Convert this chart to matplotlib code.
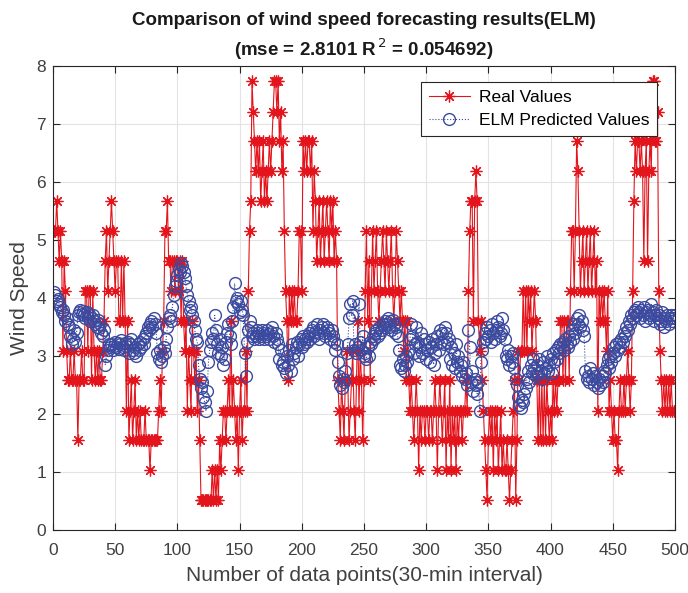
import numpy as np
import matplotlib
matplotlib.use("Agg")
import matplotlib.pyplot as plt

plt.rcParams['font.family'] = ['Liberation Sans', 'DejaVu Sans']

# real wind speed, points 1..500
real_values = [
    5.15, 5.15, 5.67, 5.15, 4.64, 5.15, 4.64, 3.09, 4.64, 4.12, 3.09, 2.58,
    2.58, 3.09, 2.58, 2.58, 3.09, 2.58, 2.58, 1.55, 2.58, 2.58, 3.09, 2.58, 2.58,
    4.12, 4.12, 3.09, 4.12, 4.12, 2.58, 4.12, 3.09, 2.58,
    3.09, 2.58, 3.09, 2.58, 2.58, 3.09, 3.61,
    4.64, 5.15, 4.12, 4.64, 5.15, 5.67, 5.15, 4.64, 4.12, 4.64,
    4.64, 3.61, 3.61, 4.64, 3.61, 4.64, 3.61, 2.06, 3.61, 1.55,
    2.06, 2.58, 1.55, 2.06, 2.58, 1.55, 2.06, 1.55, 2.06, 1.55, 1.55, 1.55, 2.06,
    1.55, 1.55, 1.55, 1.03, 1.55, 1.55, 1.55, 1.55, 1.55, 1.55, 2.06, 2.58, 2.06,
    3.09, 3.61, 5.15, 5.15, 5.67,
    4.64, 4.64, 4.12, 4.64, 4.64, 4.12, 4.64, 4.64, 4.12, 4.64, 3.61, 4.64,
    3.61, 3.09, 3.61, 2.06, 3.09, 2.58, 2.06, 3.61, 3.09, 2.58, 3.09, 2.06, 2.58,
    1.55, 0.52, 0.52, 0.52, 0.52, 0.52, 0.52, 0.52, 0.52, 0.52, 1.03, 0.52, 1.03,
    0.52, 1.03, 0.52, 1.55, 1.03, 1.55,
    2.06, 2.06, 1.55, 2.06, 2.58, 2.06, 3.61, 2.06, 2.58, 2.06, 1.55, 2.06, 1.03,
    2.06, 2.58, 1.55, 2.06, 2.06, 3.09, 2.06,
    4.12, 5.15, 5.67, 7.73, 7.21, 6.70, 6.18, 6.70, 6.18, 6.70, 5.67, 6.18, 6.70,
    5.67, 6.18, 5.67, 6.18, 6.70, 6.18, 6.70, 7.21, 7.73, 7.73, 7.21, 7.73, 6.70,
    7.21, 6.18, 6.70,
    5.15, 4.12, 3.61, 2.58, 4.12, 3.61, 4.12, 3.61, 4.12, 3.61, 3.61, 4.12, 5.15,
    5.15, 4.12, 6.70, 6.18, 6.70, 6.18, 6.70, 6.70, 6.18, 6.70, 5.15, 6.18, 5.67,
    4.64, 5.15, 5.67, 4.64, 5.15, 5.67, 4.64, 5.15, 5.67, 5.15, 4.64, 5.67, 5.15,
    5.67, 4.64, 5.15, 4.64,
    2.58, 2.06, 1.55, 2.58, 2.06, 1.55, 2.58, 3.09, 2.58, 1.55, 2.06, 2.58, 3.09,
    2.06, 1.55, 2.58, 3.61, 2.06, 3.09, 2.58, 1.55, 2.58,
    4.12, 5.15, 3.61, 4.64, 2.58, 4.12, 5.15, 4.12, 4.64, 5.15, 4.12, 3.61, 4.12,
    4.64, 5.15, 4.64, 4.12, 5.15, 4.64, 4.12, 4.64, 5.15, 4.12, 3.61, 4.12, 5.15,
    4.64, 4.12, 3.61, 4.12, 3.61, 3.09, 3.61, 2.58, 3.61,
    2.58, 2.06, 2.58, 2.06, 1.55, 2.06, 2.58, 2.06, 1.03, 2.06, 1.55, 2.06, 2.06,
    1.55, 2.06, 2.06, 1.55, 2.06, 2.06, 1.55, 2.06, 2.58, 2.06, 1.03, 2.06, 2.58,
    2.06, 1.55,
    2.06, 2.58, 1.03, 2.06, 1.55, 2.58, 1.03, 2.06, 1.55, 2.06, 1.03, 2.06, 1.55,
    2.06, 2.06, 1.55, 2.06, 2.06, 2.58,
    2.06, 4.12, 5.15, 5.67, 5.67, 3.61, 5.67, 6.18, 5.67, 3.61, 3.09, 3.61, 2.58,
    2.06, 1.55, 1.03, 0.52, 1.55, 2.06, 1.55, 2.06, 1.03, 2.06, 1.55, 2.06, 1.03,
    1.55, 2.06, 1.03, 1.55, 1.03, 1.03, 1.55, 1.03, 0.52, 1.03, 1.55, 2.06, 2.58,
    0.52,
    1.55, 3.09, 2.58, 3.09, 3.09, 4.12, 3.09, 4.12, 3.09, 4.12, 3.61, 4.12, 3.09,
    3.61, 4.12, 3.61,
    2.58, 1.55, 2.58, 1.55, 2.58, 1.55, 2.58, 1.55, 2.58, 2.06, 1.55, 2.06, 1.55,
    2.58, 2.06, 2.58, 2.06, 2.58, 2.58, 3.61,
    3.61, 2.58, 3.61, 2.58, 3.61, 3.61, 2.58, 4.12, 5.15, 5.15, 4.12, 5.15, 6.70,
    6.18, 5.15, 4.12, 4.64, 5.15, 4.12, 4.64, 5.15, 4.12, 4.64, 5.15, 4.12, 4.64,
    5.15, 4.12, 4.64,
    2.06, 4.12, 3.61, 4.12, 3.61, 4.12, 3.61, 3.09, 4.12, 2.06, 2.58, 2.06, 1.55,
    2.06, 1.55, 1.55, 1.03, 2.06, 2.58, 2.06, 2.06, 2.58, 2.06, 2.58, 3.09, 2.58,
    2.06, 2.58,
    4.12, 5.67, 6.70, 6.18, 6.70, 6.70, 6.18, 6.70, 6.18, 4.64, 6.18, 6.70, 4.64,
    6.18, 6.70, 6.18, 7.73, 7.73, 6.70, 6.70, 7.21, 4.12, 3.09, 2.58, 2.06, 2.58,
    2.06, 2.58, 2.06, 2.58, 2.06, 2.58, 2.06, 2.06, 2.06,
]

# ELM predicted wind speed, points 1..500
elm_predicted = [
    4.10, 4.05, 3.95, 3.98, 3.90, 3.85, 3.75, 3.80, 3.70, 3.60, 3.65, 3.55, 3.50,
    3.35, 3.20, 3.30, 3.45, 3.25, 3.40,
    3.70, 3.75, 3.80, 3.72, 3.78, 3.70, 3.65, 3.75, 3.68, 3.72, 3.60, 3.65, 3.70,
    3.60, 3.55, 3.50, 3.62, 3.48, 3.55, 3.40, 3.35, 3.45,
    2.85, 3.00, 3.10, 3.20, 3.15,
    3.20, 3.10, 3.18, 3.25, 3.15, 3.22, 3.12, 3.20, 3.28, 3.15, 3.10, 3.22, 3.18,
    3.25, 3.05, 3.20, 3.30,
    3.10, 3.05, 3.15, 3.00, 3.20, 3.10, 3.25, 3.15, 3.30, 3.20, 3.35, 3.40, 3.50,
    3.45, 3.55, 3.60, 3.50, 3.65, 3.55, 3.40,
    3.05, 2.95, 3.10, 2.90, 3.00, 3.15, 3.05, 3.30, 3.50,
    3.65, 3.70, 3.60, 3.85, 4.05, 4.20, 4.30, 4.40, 4.50, 4.45, 4.60, 4.55, 4.45,
    4.35, 4.20, 4.05,
    3.95, 3.80, 3.85, 3.70, 3.60, 3.45, 3.30, 3.25, 2.85, 2.60, 2.45, 2.55, 2.30,
    2.20, 2.05, 2.40,
    2.90, 3.10, 3.25, 3.40, 3.30, 3.70, 3.45, 3.20, 3.05, 3.30, 3.00, 3.15, 2.85,
    2.95, 3.25, 3.40, 3.55, 3.35, 3.20, 3.60, 3.85, 4.25,
    3.95, 4.00, 3.90, 3.75, 3.95, 3.80, 3.70, 3.05, 2.65, 3.25, 3.45, 3.60, 3.50,
    3.35, 3.40,
    3.30, 3.35, 3.45, 3.40, 3.30, 3.35, 3.45, 3.40, 3.30, 3.35, 3.45, 3.38, 3.30,
    3.42, 3.50, 3.35, 3.25, 3.40, 3.30, 3.20, 2.95, 3.10, 2.85, 2.90,
    2.80, 2.70, 3.00, 2.85, 3.10, 2.75, 3.20, 2.95, 3.05, 3.15, 3.25, 3.00, 3.20,
    3.30, 3.15, 3.35, 3.20, 3.30, 3.25, 3.35,
    3.40, 3.30, 3.45, 3.50, 3.35, 3.42, 3.55, 3.40, 3.30, 3.45, 3.50, 3.55, 3.40,
    3.35, 3.50, 3.45, 3.40, 3.30, 3.45, 3.35, 3.25, 3.10, 3.20,
    2.90, 2.65, 2.50, 2.45, 2.60, 2.55, 2.75, 3.05, 3.20,
    3.65, 3.90, 3.70, 3.95, 3.10, 3.20, 3.05, 3.15, 3.90, 3.25, 3.10, 3.35, 3.00,
    3.05, 2.95, 3.15, 3.00, 3.25, 3.20, 3.35, 3.30, 3.40, 3.45, 3.35, 3.50, 3.40,
    3.45, 3.55, 3.50, 3.60, 3.55, 3.65, 3.50, 3.60, 3.45, 3.62, 3.55, 3.40, 3.50,
    3.35,
    3.10, 2.85, 2.80, 2.95, 2.75, 2.85, 3.00, 2.90, 3.10, 3.30,
    3.55, 3.35, 3.05, 3.20, 3.50, 3.25, 3.00, 3.15, 3.40, 3.05, 3.30, 3.20, 2.95,
    3.10, 3.25, 2.90, 3.15, 3.30, 2.85, 3.05, 3.20, 3.35, 3.10, 3.45, 3.25, 3.40,
    3.20,
    3.50, 3.40, 3.25, 3.30, 2.95, 3.15, 2.85, 3.05, 2.80, 3.20, 2.90, 3.00, 2.75,
    2.85, 2.65, 2.90, 2.60, 2.70, 2.50, 3.45, 3.15, 2.55, 2.75, 2.40, 2.60, 2.50,
    2.35, 2.55, 2.05, 2.90,
    3.10, 3.25, 3.40, 3.30, 3.50, 3.35, 3.45, 3.25, 3.55, 3.40, 3.30, 3.45, 3.60,
    3.50, 3.35, 3.40, 3.65, 3.45, 3.30, 3.00, 2.95, 3.10, 2.85, 3.00, 2.90, 3.05,
    2.80, 2.60,
    2.50, 2.30, 2.15, 2.10, 2.25, 2.20, 2.35, 2.45, 2.60, 2.75, 2.55, 2.85, 2.70,
    2.95, 2.80, 2.65,
    2.85, 2.70, 2.95, 2.75, 2.60, 2.90, 2.70, 2.80, 3.00, 2.75, 2.85, 2.95, 2.70,
    3.05, 2.90, 3.10, 2.95, 3.15,
    3.05, 3.20, 3.15, 3.25, 3.10, 3.30, 3.20, 3.15, 3.35, 3.25, 3.45, 3.30, 3.55,
    3.40, 3.65, 3.55, 3.70, 3.50, 3.60, 3.45, 3.35, 2.75, 2.60,
    2.65, 2.55, 2.80, 2.60, 2.70, 2.50, 2.65, 2.55, 2.45, 2.60, 2.50, 2.65, 2.55,
    2.75, 2.70, 2.85, 2.95, 2.80, 3.00, 2.90, 3.05, 3.15, 3.00, 3.20, 3.10, 3.25,
    3.15, 3.30, 3.25, 3.40, 3.35, 3.50, 3.45, 3.60, 3.55, 3.70, 3.65, 3.75, 3.80,
    3.70, 3.85, 3.75, 3.65, 3.80, 3.70, 3.85, 3.60, 3.75, 3.80, 3.65, 3.70, 3.90,
    3.75, 3.60, 3.70, 3.80, 3.65, 3.70, 3.55, 3.60, 3.75, 3.50, 3.65, 3.60, 3.70,
    3.55, 3.65, 3.70, 3.60, 3.65, 3.70,
]

assert len(real_values) == 500, len(real_values)
assert len(elm_predicted) == 500, len(elm_predicted)

x_ticks = list(range(0, 501, 50))
y_ticks = list(range(0, 9))

red = '#E3141B'
blue = '#3B4A9E'
axis_gray = '#262626'
text_gray = '#404040'

fig = plt.figure(figsize=(6.88, 5.93), dpi=100)
ax = fig.add_axes([0.077, 0.106, 0.904, 0.783])

pts = np.arange(1, len(real_values) + 1)
ax.plot(pts, real_values, color=red, lw=0.8, marker=(8, 2, 0), ms=8.5,
        mew=0.9, label='Real Values')
ax.plot(pts, elm_predicted, color=blue, lw=0.8, ls=':', marker='o', ms=8.5,
        mfc='none', mew=1.0, label='ELM Predicted Values')

ax.set_xlim(0, 500)
ax.set_ylim(0, 8)
ax.set_xticks(x_ticks)
ax.set_yticks(y_ticks)
ax.grid(True, color='#e3e3e3', lw=0.8)
ax.set_axisbelow(True)
ax.tick_params(direction='in', top=True, right=True, labelsize=12.5,
               colors=axis_gray, labelcolor=text_gray, length=5)
ax.tick_params(axis='x', pad=9)
ax.tick_params(axis='y', pad=5)
for s in ax.spines.values():
    s.set_color(axis_gray)
    s.set_linewidth(0.8)

ax.set_xlabel('Number of data points(30-min interval)', fontsize=15,
              color=text_gray, labelpad=6)
ax.set_ylabel('Wind Speed', fontsize=15, color=text_gray, labelpad=5)
ax.set_title('Comparison of wind speed forecasting results(ELM)\n'
             '(mse = 2.8101 R$^{\\,2}$ = 0.054692)',
             fontsize=13.5, fontweight='bold', color='#1a1a1a', pad=7,
             linespacing=1.4)

leg = ax.legend(loc='upper right', bbox_to_anchor=(0.98, 0.976),
                fontsize=12.5, fancybox=False, framealpha=1,
                edgecolor=axis_gray, borderpad=0.45, handlelength=2.4,
                handletextpad=0.5, labelspacing=0.45, borderaxespad=0.3)
leg.get_frame().set_linewidth(0.8)

fig.savefig('out.png', dpi=100)
